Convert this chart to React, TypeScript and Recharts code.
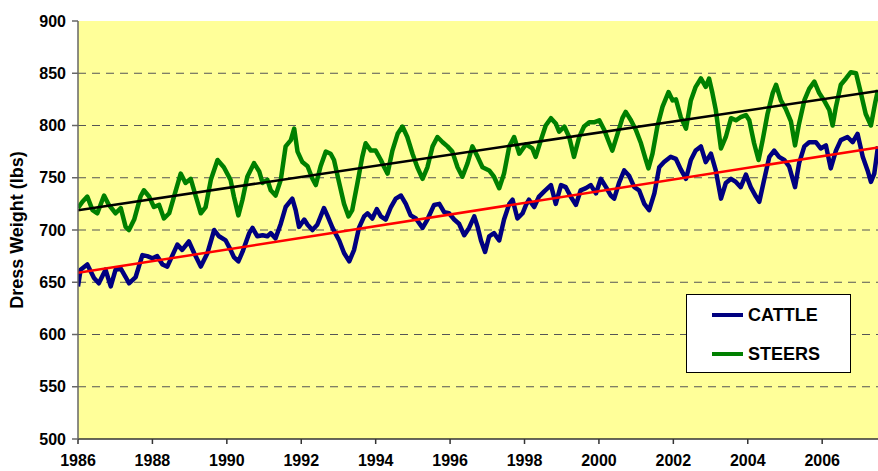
import { LineChart, Line, XAxis, YAxis, CartesianGrid } from "recharts";

// [year, dress weight lbs] at peaks / troughs
const steersPoints: [number, number][] = [
  [1986.0, 721], [1986.12, 727], [1986.25, 732], [1986.39, 719], [1986.52, 716],
  [1986.7, 733], [1986.83, 724], [1987.01, 716], [1987.15, 721], [1987.28, 703],
  [1987.37, 700], [1987.51, 710], [1987.68, 732], [1987.77, 738], [1987.91, 732],
  [1988.04, 722], [1988.18, 724], [1988.31, 711], [1988.45, 716], [1988.58, 732],
  [1988.76, 754], [1988.89, 745], [1989.03, 749], [1989.16, 733], [1989.3, 716],
  [1989.43, 722], [1989.57, 748], [1989.75, 767], [1989.92, 760], [1990.1, 748],
  [1990.19, 732], [1990.31, 714], [1990.42, 729], [1990.55, 751], [1990.73, 764],
  [1990.87, 756], [1990.96, 745], [1991.09, 748], [1991.18, 738], [1991.31, 733],
  [1991.45, 748], [1991.58, 780], [1991.72, 786], [1991.81, 797], [1991.9, 775],
  [1992.03, 765], [1992.17, 761], [1992.3, 749], [1992.39, 743], [1992.52, 761],
  [1992.66, 775], [1992.79, 773], [1992.88, 767], [1993.02, 745], [1993.15, 725],
  [1993.27, 713], [1993.37, 719], [1993.51, 745], [1993.64, 770], [1993.73, 783],
  [1993.87, 776], [1994.0, 776], [1994.14, 767], [1994.23, 760], [1994.32, 754],
  [1994.45, 776], [1994.59, 792], [1994.72, 799], [1994.85, 789], [1994.99, 773],
  [1995.12, 760], [1995.26, 749], [1995.39, 760], [1995.53, 780], [1995.66, 789],
  [1995.8, 784], [1995.93, 780], [1996.06, 775], [1996.2, 760], [1996.33, 751],
  [1996.47, 764], [1996.6, 780], [1996.74, 770], [1996.87, 760], [1997.05, 757],
  [1997.18, 751], [1997.32, 740], [1997.45, 754], [1997.59, 780], [1997.72, 789],
  [1997.86, 773], [1998.04, 782], [1998.21, 778], [1998.3, 770], [1998.44, 786],
  [1998.57, 800], [1998.71, 807], [1998.84, 802], [1998.93, 794], [1999.07, 799],
  [1999.2, 789], [1999.33, 770], [1999.47, 789], [1999.6, 799], [1999.74, 803],
  [1999.87, 803], [2000.01, 805], [2000.14, 796], [2000.28, 783], [2000.36, 776],
  [2000.5, 792], [2000.63, 807], [2000.72, 813], [2000.86, 805], [2000.99, 796],
  [2001.13, 783], [2001.26, 767], [2001.33, 759], [2001.44, 773], [2001.57, 799],
  [2001.71, 818], [2001.87, 832], [2001.98, 824], [2002.07, 825], [2002.2, 808],
  [2002.34, 797], [2002.47, 824], [2002.6, 837], [2002.74, 845], [2002.87, 837],
  [2002.96, 845], [2003.05, 831], [2003.14, 815], [2003.28, 778], [2003.41, 789],
  [2003.55, 807], [2003.68, 805], [2003.81, 808], [2003.95, 810], [2004.04, 805],
  [2004.17, 783], [2004.29, 767], [2004.4, 786], [2004.53, 811], [2004.67, 831],
  [2004.76, 839], [2004.89, 824], [2005.02, 816], [2005.16, 804], [2005.27, 781],
  [2005.38, 802], [2005.52, 824], [2005.65, 835], [2005.79, 842], [2005.92, 831],
  [2006.05, 824], [2006.19, 815], [2006.28, 800], [2006.37, 818], [2006.5, 839],
  [2006.64, 845], [2006.77, 851], [2006.91, 850], [2007.04, 831], [2007.17, 811],
  [2007.31, 800], [2007.42, 821], [2007.5, 834],
];

const cattlePoints: [number, number][] = [
  [1986.0, 646], [1986.07, 662], [1986.25, 667], [1986.43, 654], [1986.56, 649],
  [1986.74, 662], [1986.88, 646], [1987.01, 662], [1987.15, 663], [1987.28, 655],
  [1987.37, 649], [1987.55, 655], [1987.73, 676], [1987.86, 675], [1988.0, 673],
  [1988.13, 675], [1988.27, 667], [1988.4, 665], [1988.54, 676], [1988.67, 686],
  [1988.8, 681], [1988.98, 689], [1989.12, 678], [1989.3, 665], [1989.48, 678],
  [1989.66, 700], [1989.79, 694], [1989.97, 690], [1990.1, 681], [1990.19, 674],
  [1990.31, 670], [1990.42, 679], [1990.6, 697], [1990.69, 702], [1990.82, 694],
  [1990.96, 695], [1991.09, 694], [1991.18, 697], [1991.31, 692], [1991.45, 706],
  [1991.58, 722], [1991.76, 730], [1991.85, 719], [1991.94, 703], [1992.08, 710],
  [1992.17, 705], [1992.3, 700], [1992.43, 705], [1992.61, 721], [1992.7, 714],
  [1992.84, 702], [1993.02, 690], [1993.15, 678], [1993.29, 670], [1993.42, 681],
  [1993.55, 702], [1993.69, 713], [1993.78, 716], [1993.91, 711], [1994.03, 720],
  [1994.14, 713], [1994.27, 710], [1994.41, 722], [1994.54, 730], [1994.68, 733],
  [1994.81, 725], [1994.94, 714], [1995.08, 711], [1995.26, 702], [1995.39, 710],
  [1995.57, 724], [1995.71, 725], [1995.84, 717], [1995.97, 716], [1996.11, 710],
  [1996.24, 706], [1996.38, 695], [1996.51, 702], [1996.65, 713], [1996.74, 703],
  [1996.83, 690], [1996.94, 679], [1997.05, 694], [1997.18, 697], [1997.32, 690],
  [1997.45, 710], [1997.59, 725], [1997.68, 729], [1997.81, 711], [1997.95, 716],
  [1998.04, 724], [1998.12, 729], [1998.26, 722], [1998.39, 732], [1998.53, 737],
  [1998.71, 743], [1998.84, 725], [1998.98, 743], [1999.11, 741], [1999.24, 732],
  [1999.38, 724], [1999.51, 738], [1999.65, 740], [1999.78, 743], [1999.92, 735],
  [2000.05, 749], [2000.19, 741], [2000.32, 733], [2000.41, 730], [2000.54, 745],
  [2000.68, 757], [2000.81, 752], [2000.95, 741], [2001.08, 738], [2001.22, 725],
  [2001.35, 719], [2001.49, 735], [2001.62, 760], [2001.75, 765], [2001.93, 770],
  [2002.07, 768], [2002.2, 758], [2002.34, 749], [2002.47, 767], [2002.6, 776],
  [2002.74, 780], [2002.87, 765], [2003.01, 773], [2003.14, 757], [2003.28, 730],
  [2003.41, 745], [2003.55, 749], [2003.68, 746], [2003.81, 741], [2003.95, 753],
  [2004.08, 741], [2004.22, 732], [2004.31, 727], [2004.44, 748], [2004.58, 770],
  [2004.71, 776], [2004.84, 770], [2004.98, 767], [2005.11, 761], [2005.27, 741],
  [2005.38, 764], [2005.52, 780], [2005.65, 784], [2005.83, 784], [2005.96, 778],
  [2006.1, 781], [2006.23, 759], [2006.37, 776], [2006.5, 786], [2006.68, 789],
  [2006.82, 784], [2006.95, 792], [2007.09, 770], [2007.22, 757], [2007.31, 746],
  [2007.4, 754], [2007.5, 780],
];

const steersTrend: [number, number][] = [[1986, 719], [2007.5, 833]];
const cattleTrend: [number, number][] = [[1986, 659], [2007.5, 779]];

const yearTicks = [1986, 1988, 1990, 1992, 1994, 1996, 1998, 2000, 2002, 2004, 2006];
const weightTicks = [500, 550, 600, 650, 700, 750, 800, 850, 900];
const gridValues = [550, 600, 650, 700, 750, 800, 850];

const legendItems = [
  { name: "CATTLE", color: "#000080" },
  { name: "STEERS", color: "#008000" },
];

const toRows = (pts: [number, number][]) => pts.map(([year, value]) => ({ year, value }));

const FONT = "'Liberation Sans', Arial, sans-serif";

function LegendBox() {
  return (
    <div
      style={{
        position: "absolute",
        left: 686,
        top: 294,
        width: 165,
        height: 79,
        border: "1.5px solid #000",
        background: "#fff",
        fontFamily: FONT,
        fontWeight: "bold",
        fontSize: 18,
        boxSizing: "border-box",
        paddingTop: 6,
      }}
    >
      {legendItems.map((it) => (
        <div key={it.name} style={{ display: "flex", alignItems: "center", height: 28, marginBottom: 11 }}>
          <span style={{ display: "inline-block", width: 31, height: 4, background: it.color, marginLeft: 25, marginRight: 5 }} />
          <span style={{ color: "#000" }}>{it.name}</span>
        </div>
      ))}
    </div>
  );
}

export default function App() {
  return (
    <div style={{ position: "absolute", left: 0, top: 0, width: 878, height: 471, background: "#fff" }}>
      <LineChart width={878} height={471} margin={{ top: 21, right: 0, left: 8, bottom: 2 }}>
        <CartesianGrid
          fill="#FFFF99"
          vertical={false}
          horizontalValues={gridValues}
          stroke="#555"
          strokeDasharray="8 6"
        />
        <XAxis
          dataKey="year"
          type="number"
          domain={[1986, 2007.5]}
          ticks={yearTicks}
          allowDataOverflow
          height={30}
          tickSize={5}
          tickMargin={11}
          stroke="#333"
          strokeWidth={1.5}
          tick={{ fill: "#000", fontSize: 16, fontWeight: "bold", fontFamily: FONT }}
        />
        <YAxis
          type="number"
          domain={[500, 900]}
          ticks={weightTicks}
          width={70}
          tickSize={6}
          tickMargin={6}
          stroke="#666"
          strokeWidth={1.5}
          tick={{ fill: "#000", fontSize: 16, fontWeight: "bold", fontFamily: FONT }}
          label={{
            value: "Dress Weight (lbs)",
            angle: -90,
            position: "center",
            dx: -26,
            style: { fill: "#000", fontSize: 18, fontWeight: "bold", fontFamily: FONT },
          }}
        />
        <Line
          data={toRows(steersPoints)}
          dataKey="value"
          name="STEERS"
          stroke="#008000"
          strokeWidth={4.5}
          dot={false}
          strokeLinejoin="round"
          isAnimationActive={false}
        />
        <Line
          data={toRows(cattlePoints)}
          dataKey="value"
          name="CATTLE"
          stroke="#000080"
          strokeWidth={4.5}
          dot={false}
          strokeLinejoin="round"
          isAnimationActive={false}
        />
        <Line
          data={toRows(steersTrend)}
          dataKey="value"
          stroke="#000"
          strokeWidth={2.5}
          dot={false}
          isAnimationActive={false}
        />
        <Line
          data={toRows(cattleTrend)}
          dataKey="value"
          stroke="#FF0000"
          strokeWidth={2.5}
          dot={false}
          isAnimationActive={false}
        />
      </LineChart>
      <LegendBox />
    </div>
  );
}
